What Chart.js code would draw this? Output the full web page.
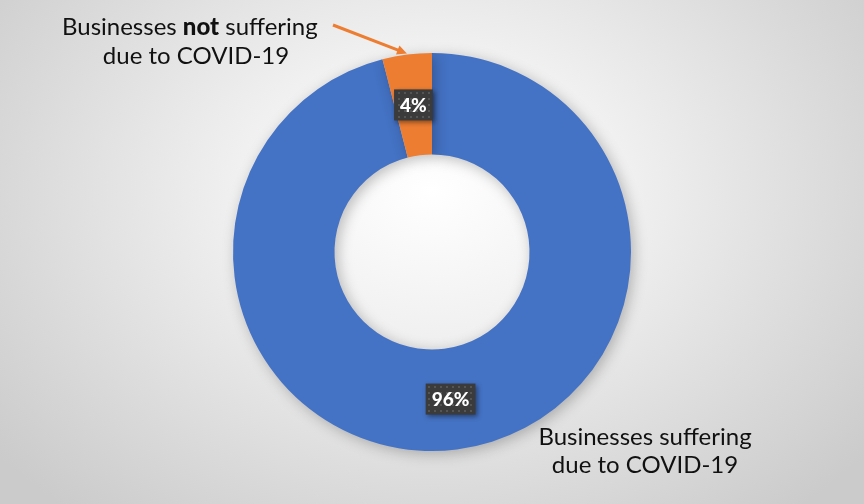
<!DOCTYPE html>
<html>
<head>
<meta charset="utf-8">
<script src="https://cdn.jsdelivr.net/npm/chart.js@4"></script>
<style>
  html, body { margin: 0; padding: 0; }
  #wrap {
    width: 864px; height: 504px; position: relative;
    background: radial-gradient(ellipse 560px 420px at 432px 190px, #ffffff 0%, #f0f0f0 35%, #d9d9d9 75%, #cbcbcb 100%);
  }
</style>
</head>
<body>
<div id="wrap"><canvas id="myChart" width="864" height="504"></canvas></div>
<script>
var categories = ["Businesses suffering due to COVID-19", "Businesses not suffering due to COVID-19"];
var values = [96, 4];
var colors = ["#4472C4", "#ED7D31"];
var valueLabels = ["96%", "4%"];

// dotted dark pattern for the value boxes
function makePattern(ctx) {
  var c = document.createElement("canvas");
  c.width = 6; c.height = 6;
  var p = c.getContext("2d");
  p.fillStyle = "#3b3b3b";
  p.fillRect(0, 0, 6, 6);
  p.fillStyle = "#555555";
  p.fillRect(2, 2, 2, 2);
  return ctx.createPattern(c, "repeat");
}

const shadowPlugin = {
  id: "shadow",
  beforeDatasetsDraw(chart) {
    const ctx = chart.ctx;
    ctx.save();
    ctx.shadowColor = "rgba(0,0,0,0.25)";
    ctx.shadowBlur = 14;
    ctx.shadowOffsetX = 3;
    ctx.shadowOffsetY = 3;
  },
  afterDatasetsDraw(chart) {
    chart.ctx.restore();
  }
};

const labelPlugin = {
  id: "labels",
  afterDraw(chart) {
    const ctx = chart.ctx;
    const meta = chart.getDatasetMeta(0);
    const pat = makePattern(ctx);
    ctx.save();
    ctx.font = "900 19px Lato";
    ctx.textAlign = "center";
    ctx.textBaseline = "middle";
    meta.data.forEach(function (arc, i) {
      const pos = arc.tooltipPosition();
      const text = valueLabels[i];
      const w = ctx.measureText(text).width + 12;
      const h = 31;
      ctx.save();
      ctx.shadowColor = "rgba(0,0,0,0.45)";
      ctx.shadowBlur = 5;
      ctx.shadowOffsetX = 2;
      ctx.shadowOffsetY = 2;
      ctx.fillStyle = pat;
      ctx.fillRect(pos.x - w / 2, pos.y - h / 2, w, h);
      ctx.restore();
      ctx.fillStyle = "#ffffff";
      ctx.fillText(text, pos.x, pos.y + 1);
    });

    // category annotations
    ctx.fillStyle = "#111111";
    ctx.font = "24px Lato";
    ctx.textAlign = "left";
    var x0 = 62;
    var y0 = 27;
    var a = "Businesses ";
    ctx.fillText(a, x0, y0);
    var x1 = x0 + ctx.measureText(a).width;
    ctx.font = "900 24px Lato";
    ctx.fillText("not", x1, y0);
    var x2 = x1 + ctx.measureText("not").width;
    ctx.font = "24px Lato";
    ctx.fillText(" suffering", x2, y0);
    ctx.textAlign = "center";
    ctx.fillText("due to COVID-19", 196, 56);
    ctx.fillText("Businesses suffering", 645, 437);
    ctx.fillText("due to COVID-19", 645, 465);

    // arrow pointing to the small slice
    const small = meta.data[1];
    const ang = (small.startAngle + small.endAngle) / 2;
    const tx = small.x + (small.outerRadius + 1) * Math.cos(ang);
    const ty = small.y + (small.outerRadius + 1) * Math.sin(ang);
    const sx = 333, sy = 25;
    ctx.strokeStyle = "#ED7D31";
    ctx.fillStyle = "#ED7D31";
    ctx.lineWidth = 3;
    const dir = Math.atan2(ty - sy, tx - sx);
    const hl = 11;
    ctx.beginPath();
    ctx.moveTo(sx, sy);
    ctx.lineTo(tx - hl * 0.8 * Math.cos(dir), ty - hl * 0.8 * Math.sin(dir));
    ctx.stroke();
    ctx.beginPath();
    ctx.moveTo(tx, ty);
    ctx.lineTo(tx - hl * Math.cos(dir - 0.45), ty - hl * Math.sin(dir - 0.45));
    ctx.lineTo(tx - hl * Math.cos(dir + 0.45), ty - hl * Math.sin(dir + 0.45));
    ctx.closePath();
    ctx.fill();
    ctx.restore();
  }
};

const data = {
  labels: categories,
  datasets: [
    {
      data: values,
      backgroundColor: colors,
      borderWidth: 0,
    },
  ],
};

const config = {
  type: "doughnut",
  data: data,
  options: {
    responsive: false,
    animation: false,
    cutout: "49%",
    layout: { padding: { top: 53, bottom: 53 } },
    plugins: {
      legend: { display: false },
      tooltip: { enabled: false },
    },
  },
  plugins: [shadowPlugin, labelPlugin],
};

const myChart = new Chart(document.getElementById("myChart"), config);
</script>
</body>
</html>
